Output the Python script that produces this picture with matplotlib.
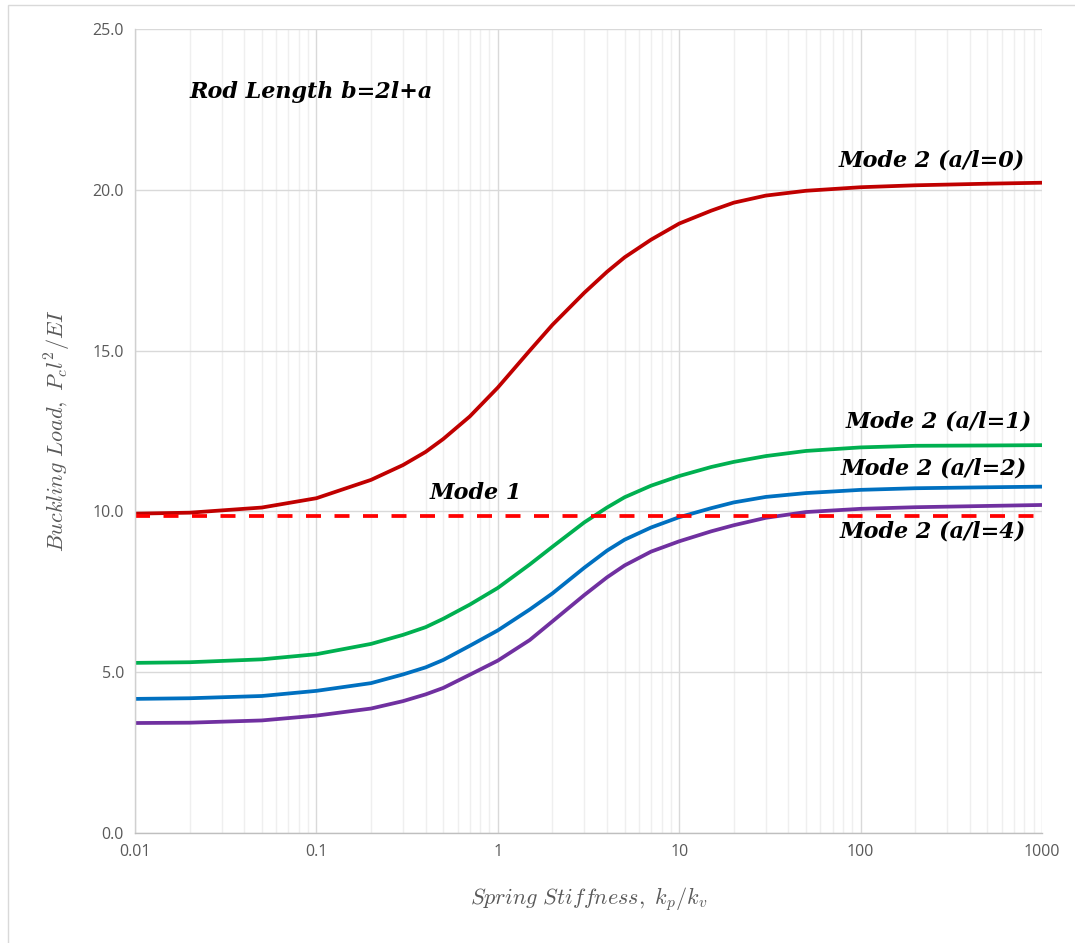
import matplotlib
matplotlib.use("Agg")
import matplotlib.pyplot as plt
from matplotlib.patches import Rectangle
from matplotlib.ticker import LogLocator, FixedLocator, FuncFormatter, NullFormatter

# ---- data ----
stiffness = [0.01, 0.02, 0.05, 0.1, 0.2, 0.3, 0.4, 0.5, 0.7, 1, 1.5, 2, 3, 4, 5, 7, 10, 15, 20, 30, 50, 100, 200, 500, 1000]
mode2_a0 = [9.93, 9.96, 10.12, 10.41, 10.98, 11.44, 11.85, 12.25, 12.95, 13.85, 15.0, 15.8, 16.8, 17.45, 17.9, 18.45, 18.95, 19.35, 19.6, 19.82, 19.97, 20.08, 20.14, 20.19, 20.22]
mode2_a1 = [5.29, 5.31, 5.4, 5.56, 5.88, 6.16, 6.4, 6.66, 7.1, 7.62, 8.35, 8.9, 9.66, 10.12, 10.44, 10.8, 11.1, 11.38, 11.54, 11.72, 11.88, 11.99, 12.04, 12.05, 12.06]
mode2_a2 = [4.17, 4.19, 4.26, 4.42, 4.66, 4.93, 5.15, 5.38, 5.82, 6.3, 6.95, 7.45, 8.25, 8.78, 9.12, 9.5, 9.82, 10.1, 10.28, 10.45, 10.57, 10.67, 10.72, 10.75, 10.77]
mode2_a4 = [3.42, 3.43, 3.5, 3.65, 3.87, 4.1, 4.31, 4.51, 4.92, 5.36, 6.0, 6.58, 7.4, 7.95, 8.32, 8.75, 9.07, 9.38, 9.57, 9.8, 9.98, 10.08, 10.13, 10.17, 10.2]
mode1_value = 9.87
x_ticks = [0.01, 0.1, 1, 10, 100, 1000]
x_tick_labels = ["0.01", "0.1", "1", "10", "100", "1000"]
y_ticks = [0, 5, 10, 15, 20, 25]

W, H = 1075, 943
fig = plt.figure(figsize=(W / 100, H / 100), dpi=100)
fig.patch.set_facecolor("white")
ax = fig.add_axes([135 / W, 1 - 833 / H, (1042 - 135) / W, (833 - 29) / H])

# outer chart border
fig.patches.append(Rectangle((8 / W, -0.02), 1.05, 1 - 5 / H + 0.02, transform=fig.transFigure,
                             fill=False, edgecolor="#D9D9D9", linewidth=1.0))

ax.set_xscale("log")
ax.set_xlim(0.01, 1000)
ax.set_ylim(0, 25)

# grid
ax.xaxis.set_major_locator(FixedLocator(x_ticks))
ax.xaxis.set_minor_locator(LogLocator(base=10, subs=range(2, 10), numticks=20))
ax.xaxis.set_minor_formatter(NullFormatter())
ax.xaxis.set_major_formatter(FuncFormatter(lambda v, p: x_tick_labels[x_ticks.index(v)] if v in x_ticks else ""))
ax.yaxis.set_major_locator(FixedLocator(y_ticks))
ax.yaxis.set_major_formatter(FuncFormatter(lambda v, p: f"{v:.1f}"))
ax.grid(True, which="major", axis="both", color="#D9D9D9", linewidth=1.0)
ax.grid(True, which="minor", axis="x", color="#EFEFEF", linewidth=1.0)
ax.set_axisbelow(True)
ax.tick_params(which="both", length=0)
ax.tick_params(axis="both", labelsize=11.5, labelcolor="#595959", pad=8)
for lab in ax.get_xticklabels() + ax.get_yticklabels():
    lab.set_fontfamily("Open Sans")

for s in ["top", "right"]:
    ax.spines[s].set_visible(False)
ax.spines["left"].set_color("#D0D0D0")
ax.spines["bottom"].set_color("#BFBFBF")
ax.spines["left"].set_linewidth(1.0)
ax.spines["bottom"].set_linewidth(1.0)

lw = 2.7
ax.plot(stiffness, mode2_a0, color="#C00000", lw=lw, solid_capstyle="butt", solid_joinstyle="round")
ax.plot(stiffness, mode2_a1, color="#00B050", lw=lw, solid_capstyle="butt", solid_joinstyle="round")
ax.plot(stiffness, mode2_a2, color="#0070C0", lw=lw, solid_capstyle="butt", solid_joinstyle="round")
ax.plot(stiffness, mode2_a4, color="#7030A0", lw=lw, solid_capstyle="butt", solid_joinstyle="round")
ax.plot([stiffness[0], stiffness[-1]], [mode1_value, mode1_value], color="#FF0000", lw=lw,
        dashes=(4.0, 3.6))

bold_kw = dict(fontsize=16, color="black", family="DejaVu Serif", weight="bold", style="italic")
ax.text(0.0201, 23.05, "Rod Length b=2l+a", ha="left", va="center", **bold_kw)
ax.text(800, 20.9, "Mode 2 (a/l=0)", ha="right", va="center", **bold_kw)
ax.text(880, 12.8, "Mode 2 (a/l=1)", ha="right", va="center", **bold_kw)
ax.text(830, 11.34, "Mode 2 (a/l=2)", ha="right", va="center", **bold_kw)
ax.text(820, 9.39, "Mode 2 (a/l=4)", ha="right", va="center", **bold_kw)
ax.text(0.76, 10.57, "Mode 1", ha="center", va="center", **bold_kw)

ax.set_ylabel(r"$Buckling\ Load,\ P_c l^2/EI$", fontsize=16, color="#595959", math_fontfamily="cm", labelpad=14)
ax.set_xlabel(r"$Spring\ Stiffness,\ k_p/k_v$", fontsize=16, color="#595959", math_fontfamily="cm", labelpad=18)

fig.savefig("out.png", dpi=100, facecolor="white")
